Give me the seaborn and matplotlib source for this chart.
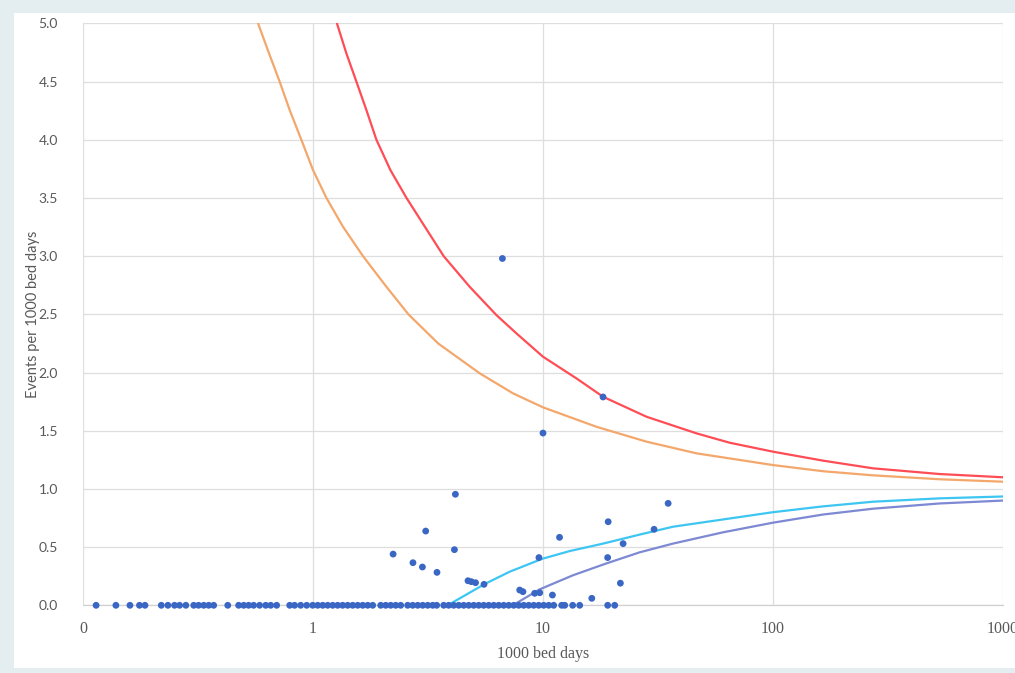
import matplotlib
matplotlib.use("Agg")
import matplotlib.pyplot as plt
from matplotlib.patches import Rectangle
from matplotlib.ticker import FixedLocator, FixedFormatter
import seaborn as sns
import pandas as pd

# units: 1000 bed days / events per 1000 bed days
zero_x = [0.114, 0.139, 0.160, 0.176, 0.186, 0.219, 0.234, 0.250, 0.263, 0.280,
          0.303, 0.318, 0.335, 0.352, 0.370, 0.426, 0.475, 0.500, 0.525, 0.552,
          0.586, 0.623, 0.655, 0.695, 0.792, 0.832, 0.884, 0.939, 0.997, 1.048,
          1.102, 1.158, 1.218, 1.280, 1.346, 1.415, 1.488, 1.564, 1.645, 1.729,
          1.818, 1.969, 2.071, 2.177, 2.289, 2.406, 2.580, 2.713, 2.852, 2.999,
          3.153, 3.314, 3.450, 3.701, 3.890, 4.091, 4.301, 4.521, 4.753, 4.997,
          5.253, 5.524, 5.806, 6.106, 6.418, 6.747, 7.094, 7.458, 7.840, 8.245,
          8.666, 9.112, 9.58, 10.07, 10.59, 11.13, 12.06, 12.43, 13.46, 14.44,
          19.11, 20.50]

event_x = [2.23, 3.09, 4.16, 4.12, 2.72, 2.99, 3.46, 4.72, 4.88, 5.09, 5.54,
           7.92, 8.18, 9.2, 9.68, 10.99, 9.6, 11.8, 19.2, 19.1, 22.3, 21.7,
           30.4, 35.0, 16.3, 10.0, 18.24, 6.66]
event_y = [0.44, 0.638, 0.954, 0.478, 0.366, 0.329, 0.283, 0.211, 0.203, 0.194, 0.18,
           0.131, 0.117, 0.103, 0.108, 0.088, 0.41, 0.584, 0.718, 0.41, 0.53, 0.19,
           0.653, 0.876, 0.06, 1.48, 1.79, 2.98]

upper95_x = [0.577, 0.644, 0.716, 0.792, 0.890, 1.0, 1.144, 1.35, 1.650, 2.085, 2.6,
             3.5, 5.31, 7.41, 10.0, 17.07, 28.2, 46.4, 100, 165, 271, 530, 1000]
upper95_y = [5.0, 4.742, 4.5, 4.255, 4.0, 3.74, 3.5, 3.253, 3.0, 2.737, 2.5,
             2.25, 1.993, 1.821, 1.701, 1.534, 1.406, 1.306, 1.205, 1.152, 1.117,
             1.083, 1.062]

upper998_x = [1.271, 1.397, 1.544, 1.707, 1.887, 2.17, 2.55, 3.70, 4.80, 6.27, 7.66,
              10.0, 13.97, 18.24, 28.2, 46.4, 64.8, 100, 165, 272, 530, 1000]
upper998_y = [5.0, 4.742, 4.5, 4.255, 4.0, 3.74, 3.5, 3.0, 2.737, 2.494, 2.337,
              2.136, 1.950, 1.792, 1.62, 1.478, 1.397, 1.32, 1.243, 1.177, 1.128, 1.10]

lower95_x = [3.85, 5.58, 7.17, 9.94, 13.06, 18.24, 26.0, 36.7, 100, 165, 272, 530, 1000]
lower95_y = [0.0, 0.183, 0.289, 0.40, 0.466, 0.53, 0.605, 0.675, 0.80, 0.85,
             0.89, 0.919, 0.935]

lower998_x = [7.39, 9.67, 13.5, 18.87, 26.3, 36.7, 60.6, 100, 165, 272, 530, 1000]
lower998_y = [0.0, 0.137, 0.258, 0.36, 0.455, 0.53, 0.627, 0.71, 0.78, 0.83, 0.875, 0.90]

x_ticks = [0.1, 1, 10, 100, 1000]
x_tick_labels = ["0", "1", "10", "100", "1000"]

sns.set_style("white")

fig = plt.figure(figsize=(10.15, 6.73), dpi=100)
fig.patch.set_facecolor("#e4eef1")
fig.patches.append(Rectangle((14 / 1015, 5 / 673), 1 - 14 / 1015, (673 - 13 - 5) / 673,
                             transform=fig.transFigure, facecolor="white",
                             edgecolor="none", zorder=-10))

ax = fig.add_axes([83 / 1015, (673 - 605.3) / 673, 920 / 1015, 581.9 / 673])
ax.set_facecolor("none")
ax.set_xscale("log")

line_specs = [
    (upper998_x, upper998_y, "#ff4d55"),
    (upper95_x, upper95_y, "#f4a76b"),
    (lower95_x, lower95_y, "#3dc6f2"),
    (lower998_x, lower998_y, "#7d89d2"),
]
for xs, ys, col in line_specs:
    df = pd.DataFrame({"x": xs, "y": ys})
    sns.lineplot(data=df, x="x", y="y", ax=ax, color=col, linewidth=1.6,
                 sort=False, estimator=None, zorder=3)

pts = pd.DataFrame({
    "x": zero_x + event_x,
    "y": [0.0] * len(zero_x) + event_y,
})
sns.scatterplot(data=pts, x="x", y="y", ax=ax, color="#3a66c4", s=24,
                edgecolor="none", zorder=4, clip_on=False)

ax.set_xlim(0.1, 1000)
ax.set_ylim(0, 5.0)
ax.xaxis.set_major_locator(FixedLocator(x_ticks))
ax.xaxis.set_major_formatter(FixedFormatter(x_tick_labels))
ax.xaxis.set_minor_locator(FixedLocator([]))
ax.set_yticks([i * 0.5 for i in range(11)])
ax.set_yticklabels([f"{i * 0.5:.1f}" for i in range(11)])

ax.grid(True, which="major", color="#dedede", linewidth=0.9, zorder=0)
for s in ["top", "right", "left"]:
    ax.spines[s].set_visible(False)
ax.spines["bottom"].set_color("#d0d0d0")
ax.spines["bottom"].set_linewidth(0.9)

ax.tick_params(axis="both", length=0, colors="#595959")
ax.tick_params(axis="y", pad=18)
ax.tick_params(axis="x", pad=11)
for lab in ax.get_yticklabels():
    lab.set_fontfamily("Lato")
    lab.set_fontsize(10)
for lab in ax.get_xticklabels():
    lab.set_fontfamily("Liberation Serif")
    lab.set_fontsize(11.5)

ax.set_xlabel("1000 bed days", fontsize=11.5, color="#595959",
              fontfamily="Liberation Serif", labelpad=7)
ax.set_ylabel("Events per 1000 bed days", fontsize=10.5, color="#595959",
              fontfamily="Lato")
ax.yaxis.set_label_coords(-0.047, 0.5)

fig.savefig("out.png", dpi=100, facecolor=fig.get_facecolor())
